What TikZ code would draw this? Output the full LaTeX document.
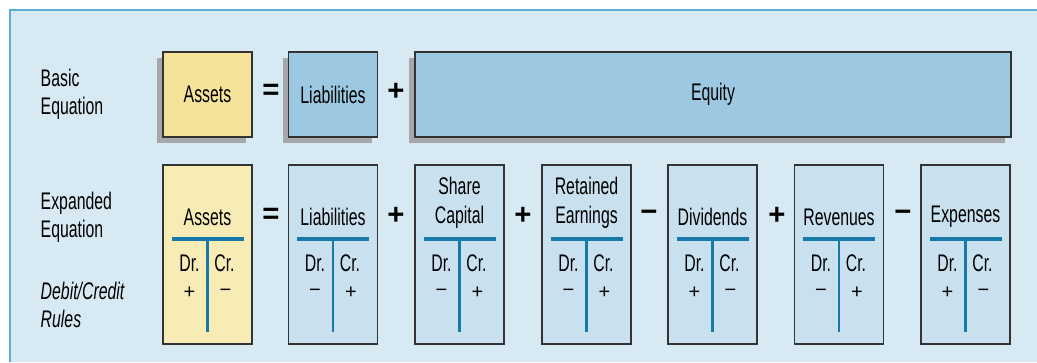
\documentclass[tikz,border=0pt]{standalone}
\usepackage{fontspec}
\setmainfont[FakeStretch=0.66]{Liberation Sans}
\newfontfamily\opfont{Liberation Sans}
\usetikzlibrary{positioning, shadows}
\definecolor{bgblue}{HTML}{D7E9F3}
\definecolor{edgeblue}{HTML}{5AAFD2}
\definecolor{yellowtop}{HTML}{F6E39A}
\definecolor{yellowlow}{HTML}{F7ECB5}
\definecolor{bluetop}{HTML}{9CC9E1}
\definecolor{bluelow}{HTML}{C9E1EE}
\definecolor{shadowgray}{HTML}{A6A7AA}
\definecolor{tbar}{HTML}{1679A8}
\tikzset{
  topbox/.style={draw=black!80, line width=0.9pt, minimum width=66.75pt, minimum height=63.75pt,
    general shadow={fill=shadowgray, shadow xshift=-4.5pt, shadow yshift=-4.5pt},
    font=\fontsize{18}{21}\selectfont},
  lowbox/.style={draw=black!80, line width=0.9pt, minimum width=66.75pt, minimum height=134.25pt},
  title/.style={align=center, font=\fontsize{18}{21.75}\selectfont},
  drcr/.style={font=\fontsize{18}{21}\selectfont},
  sign/.style={font=\opfont\fontsize{15}{17}\selectfont},
  op/.style={font=\opfont\bfseries\fontsize{22}{24}\selectfont},
  side/.style={align=left, anchor=west, font=\fontsize{18}{21}\selectfont}
}

\begin{document}
\begin{tikzpicture}[x=0.75pt, y=-0.75pt]
\useasboundingbox (0,0) rectangle (1037,362);
\fill[bgblue] (10,10) rectangle (1037,362);
\draw[edgeblue, line width=1.2pt] (10,362) -- (10,10) -- (1037,10);

% side labels
\node[side] (basic) at (36,94) {Basic\\Equation};
\node[side] (expanded) at (36,217.5) {Expanded\\Equation};
\node[side, font=\fontsize{18}{21}\selectfont\itshape] (rules) at (36,304.5) {Debit/Credit\\Rules};

% basic equation
\node[topbox, fill=yellowtop] (A1) at (207.5,94.5) {Assets};
\node[topbox, fill=bluetop] (L1) at (333,94.5) {Liabilities};
\node[topbox, fill=bluetop, minimum width=447pt] (E1) at (713,94.5) {Equity};
\node[op] (q1) at (271,92) {=};
\node[op] (p1) at (396,92) {+};

% expanded equation
\foreach \n/\x/\f/\ty/\t/\sd/\sc in {
  A2/207.5/yellowlow/217/Assets/+/−,
  L2/333/bluelow/217/Liabilities/−/+,
  S2/459.5/bluelow/202.5/{Share\\Capital}/−/+,
  R2/586.5/bluelow/202.5/{Retained\\Earnings}/−/+,
  D2/712.5/bluelow/217/Dividends/+/−,
  V2/839/bluelow/217/Revenues/−/+,
  X2/965.5/bluelow/217/Expenses/+/−}{
  \node[lowbox, fill=\f] (\n) at (\x,254.5) {};
  \node[title] (\n t) at (\x,\ty) {\t};
  \draw[tbar, line width=3pt] (\x-36,239) -- (\x+36,239);
  \draw[tbar, line width=2.2pt] (\x,239) -- (\x,332);
  \node[drcr] (\n dr) at (\x-18,263) {Dr.};
  \node[drcr] (\n cr) at (\x+17,263) {Cr.};
  \node[sign] (\n sd) at (\x-18,293) {\sd};
  \node[sign] (\n sc) at (\x+18,293) {\sc};
}
\node[op] (q2) at (271,216) {=};
\node[op] (p2) at (396,216) {+};
\node[op] (p3) at (523,216) {+};
\node[op] (m1) at (649,216) {−};
\node[op] (p4) at (777,216) {+};
\node[op] (m2) at (903,216) {−};

\end{tikzpicture}
\end{document}
